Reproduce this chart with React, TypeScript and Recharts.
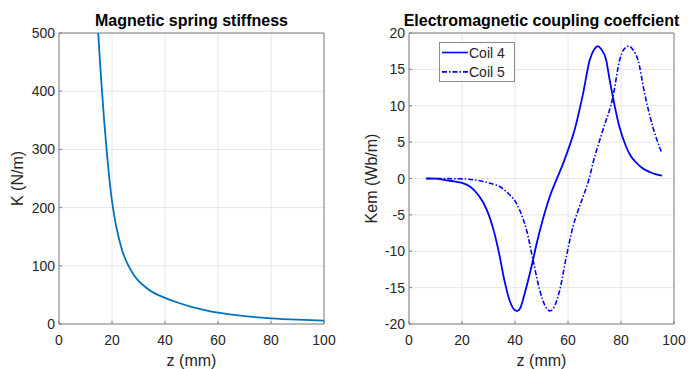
import { LineChart, Line, XAxis, YAxis, CartesianGrid, Legend, Label, ReferenceLine } from 'recharts';

// Left panel: magnetic spring stiffness K(z)
const springZ = [14.8, 15.5, 16, 17, 18, 19, 20, 21, 22, 23, 24, 26, 28, 30, 33, 36, 40, 45, 50, 55, 60, 70, 80, 90, 100];
const springK = [500, 448, 414, 352, 297, 250, 211, 182, 159, 140, 124, 102, 86, 74, 62, 53, 45, 36.5, 29.5, 24, 19.5, 13.5, 9.8, 7.4, 5.8];

// Right panel: electromagnetic coupling coefficient of coils 4 and 5
const coil4Z = [6.5, 10, 15, 17.5, 20, 23, 26, 28, 30, 32, 34, 36, 38, 40, 41, 42, 43.5, 45.5, 46.8, 48, 50.6, 53, 55.6, 58, 60, 62.5, 65.7, 68.2, 70, 71.2, 72.5, 74.4, 75.6, 76.9, 79.4, 81.9, 83.5, 85.7, 88, 90.8, 93, 95.5];
const coil4Kem = [0, -0.02, -0.3, -0.42, -0.6, -1.1, -2.2, -3.3, -4.9, -7.2, -10.3, -14, -16.8, -18.1, -18.2, -17.8, -16, -13.2, -11.2, -9.2, -5.5, -2.6, -0.2, 1.9, 3.9, 6.7, 11.7, 16.3, 17.8, 18.2, 17.8, 16.3, 13.8, 11.3, 7.1, 4.4, 3.2, 2.2, 1.45, 0.9, 0.6, 0.4];
const coil5Z = [6.5, 15, 20, 25, 28, 31, 34.2, 37, 40.5, 42.5, 44.3, 46.8, 49.3, 51.5, 53.2, 55, 56.9, 59.4, 61.9, 63.8, 65.7, 68, 69.4, 73.2, 77, 79.5, 81, 83, 84.5, 86.4, 88.9, 92, 95.2];
const coil5Kem = [0, -0.02, -0.05, -0.2, -0.4, -0.7, -1.1, -1.9, -3.4, -5, -7, -11.2, -15.3, -17.6, -18.2, -17.5, -15.3, -10.7, -6.6, -4.4, -2.5, 0, 2.1, 6.7, 11.3, 16.3, 17.7, 18.2, 17.7, 16.3, 11.7, 7.1, 3.7];

const zTicks = [0, 20, 40, 60, 80, 100];
const kTicks = [0, 100, 200, 300, 400, 500];
const kemTicks = [-20, -15, -10, -5, 0, 5, 10, 15, 20];

const springData = springZ.map((z, i) => ({ z, k: springK[i] }));
const coil4Data = coil4Z.map((z, i) => ({ z, kem: coil4Kem[i] }));
const coil5Data = coil5Z.map((z, i) => ({ z, kem: coil5Kem[i] }));

const FONT = '"Liberation Sans", Arial, sans-serif';
const AXIS = '#808080';
const TEXT = '#262626';
const GRID = '#e6e6e6';

function BottomTick({ x, y, payload }: any) {
  return (
    <g>
      <line x1={x} x2={x} y1={y} y2={y - 3} stroke={AXIS} />
      <text x={x} y={y + 21} textAnchor="middle" fontSize={14} fill={TEXT} fontFamily={FONT}>{payload.value}</text>
    </g>
  );
}

function LeftTick({ x, y, payload }: any) {
  return (
    <g>
      <line x1={x} x2={x + 3} y1={y} y2={y} stroke={AXIS} />
      <text x={x - 4} y={y + 5} textAnchor="end" fontSize={14} fill={TEXT} fontFamily={FONT}>{payload.value}</text>
    </g>
  );
}

function CoilLegend({ payload }: any) {
  return (
    <svg width={76} height={40} style={{ display: 'block' }}>
      <rect x={0.5} y={0.5} width={75} height={39} fill="#fff" stroke="#8c8c8c" />
      {(payload || []).map((entry: any, i: number) => {
        const cy = 10.5 + i * 19.4;
        return (
          <g key={entry.value}>
            <line x1={3} x2={29} y1={cy} y2={cy} stroke={entry.color} strokeWidth={1.6} strokeDasharray={entry.payload?.strokeDasharray} />
            <text x={30} y={cy + 5} fontSize={14} fill={TEXT} fontFamily={FONT}>{entry.value}</text>
          </g>
        );
      })}
    </svg>
  );
}

function Panel({ left, yWidth, right, title, yLabel, yLabelOffset, yDomain, yTicks, children, data }: any) {
  return (
    <div style={{ position: 'absolute', left, top: 0 }}>
      <LineChart width={344} height={369} data={data} margin={{ top: 33, right, bottom: 0, left: 0 }} style={{ fontFamily: FONT }}>
        <CartesianGrid stroke={GRID} horizontalValues={yTicks} verticalValues={zTicks} />
        <XAxis dataKey="z" type="number" domain={[0, 100]} ticks={zTicks} height={45} tickSize={0} tickMargin={0} tickLine={false} axisLine={{ stroke: AXIS }} tick={<BottomTick />} interval={0}>
          <Label value="z (mm)" position="insideBottom" offset={3} fontSize={16} fill={TEXT} fontFamily={FONT} />
        </XAxis>
        <YAxis type="number" domain={yDomain} ticks={yTicks} width={yWidth} tickSize={0} tickMargin={0} tickLine={false} axisLine={{ stroke: AXIS }} tick={<LeftTick />} interval={0} allowDataOverflow>
          <Label value={yLabel} angle={-90} position="insideLeft" offset={yLabelOffset} fontSize={16} fill={TEXT} fontFamily={FONT} style={{ textAnchor: 'middle' }} />
        </YAxis>
        {/* box: top and right edges, title sits on the top edge */}
        <ReferenceLine y={yDomain[1]} stroke={AXIS} ifOverflow="visible">
          <Label value={title} position="top" offset={7} fontSize={16} fontWeight="bold" fill="#000" fontFamily={FONT} />
        </ReferenceLine>
        <ReferenceLine x={100} stroke={AXIS} ifOverflow="visible" />
        {children}
      </LineChart>
    </div>
  );
}

export default function App() {
  return (
    <div style={{ position: 'absolute', left: 0, top: 0, width: 688, height: 369, background: '#fff', fontFamily: FONT }}>
      <Panel left={0} yWidth={59} right={20} title="Magnetic spring stiffness" yLabel="K (N/m)" yLabelOffset={17} yDomain={[0, 500]} yTicks={kTicks} data={springData}>
        <Line dataKey="k" type="monotone" stroke="#0072BD" strokeWidth={1.8} dot={false} isAnimationActive={false} />
      </Panel>
      <Panel left={344} yWidth={65} right={14} title="Electromagnetic coupling coeffcient" yLabel="Kem (Wb/m)" yLabelOffset={27} yDomain={[-20, 20]} yTicks={kemTicks}>
        <Line data={coil4Data} dataKey="kem" name="Coil 4" type="monotone" stroke="#0000FF" strokeWidth={1.8} dot={false} isAnimationActive={false} />
        <Line data={coil5Data} dataKey="kem" name="Coil 5" type="monotone" stroke="#0000FF" strokeWidth={1.6} strokeDasharray="5 2 1.5 2" dot={false} isAnimationActive={false} />
        <Legend layout="vertical" align="center" verticalAlign="middle" content={<CoilLegend />} wrapperStyle={{ left: 95, top: 42, width: 76, height: 40 }} />
      </Panel>
    </div>
  );
}
